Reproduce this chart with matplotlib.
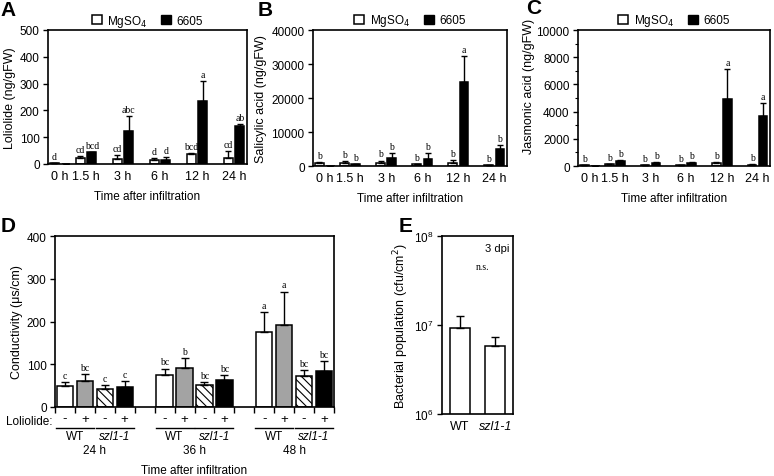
import numpy as np
import matplotlib
matplotlib.use("Agg")
import matplotlib.pyplot as plt
from matplotlib.patches import Patch
from matplotlib.ticker import MultipleLocator, LogLocator, NullLocator

plt.rcParams['font.family'] = ['Liberation Sans', 'DejaVu Sans']
plt.rcParams['hatch.linewidth'] = 0.8

# panels A-C: hormone levels after infiltration
times = ["0 h", "1.5 h", "3 h", "6 h", "12 h", "24 h"]

lol_mg = [3, 22, 20, 15, 37, 22]
lol_mg_err = [1, 6, 14, 8, 3, 25]
lol_bk = [0, 43, 125, 15, 235, 142]
lol_bk_err = [0, 2, 55, 10, 75, 6]
lol_mg_lab = ["d", "cd", "cd", "d", "bcd", "cd"]
lol_bk_lab = ["", "bcd", "abc", "d", "a", "ab"]

sa_mg = [900, 1000, 1000, 600, 1000, 300]
sa_mg_err = [300, 500, 600, 100, 800, 0]
sa_bk = [0, 600, 2500, 2200, 24800, 5000]
sa_bk_err = [0, 0, 1400, 1700, 7500, 1200]
sa_mg_lab = ["b", "b", "b", "b", "b", "b"]
sa_bk_lab = ["", "b", "b", "b", "a", "b"]

ja_mg = [50, 120, 80, 70, 200, 100]
ja_mg_err = [20, 30, 20, 20, 120, 30]
ja_bk = [0, 380, 250, 250, 4950, 3700]
ja_bk_err = [0, 30, 30, 30, 2200, 900]
ja_mg_lab = ["b", "b", "b", "b", "b", "b"]
ja_bk_lab = ["", "b", "b", "b", "a", "a"]

# panel D: conductivity
d_groups = ["24 h", "36 h", "48 h"]
wt_minus = [49, 75, 175]
wt_minus_err = [9, 15, 47]
wt_plus = [61, 92, 191]
wt_plus_err = [17, 23, 79]
szl_minus = [43, 51, 72]
szl_minus_err = [9, 8, 14]
szl_plus = [46, 62, 85]
szl_plus_err = [15, 12, 22]
d_labels = [["c", "bc", "c", "c"], ["bc", "b", "bc", "bc"], ["a", "a", "bc", "bc"]]

# panel E: bacterial population
e_names = ["WT", "szl1-1"]
e_vals = [9.3e6, 5.8e6]
e_err = [3.2e6, 1.6e6]

W, H = 774, 477
fig = plt.figure(figsize=(W / 100, H / 100), dpi=100)


def px_axes(l, r, t, b):
    return fig.add_axes([l / W, 1 - b / H, (r - l) / W, (b - t) / H])


def style(ax):
    for s in ax.spines.values():
        s.set_linewidth(1.2)
    ax.tick_params(axis='y', direction='out', length=3.5, width=1, labelsize=8.5, pad=2.5)
    ax.tick_params(axis='x', length=0, labelsize=9, pad=4)


def letters(ax, xs, ys, errs, labs):
    for x, y, e, t in zip(xs, ys, errs, labs):
        if t:
            ax.annotate(t, (x, y + e), xytext=(0, 1.5), textcoords='offset points',
                        ha='center', va='bottom', fontsize=7, family='Liberation Serif')


def hormone_panel(ax, mg, mg_err, bk, bk_err, mg_lab, bk_lab, ymax, step, ylabel, minor=None):
    pos = np.array([0.3, 1, 2, 3, 4, 5])
    w = 0.24
    xm = pos - 0.155
    xb = pos + 0.155
    ax.bar(xm, mg, w, color='white', edgecolor='black', linewidth=1.1, zorder=2)
    ax.bar(xb, bk, w, color='black', edgecolor='black', linewidth=1.1, zorder=2)
    ax.errorbar(xm, mg, yerr=[np.zeros(6), mg_err], fmt='none', ecolor='black',
                elinewidth=1, capsize=2.5, capthick=1, zorder=3)
    ax.errorbar(xb, bk, yerr=[np.zeros(6), bk_err], fmt='none', ecolor='black',
                elinewidth=1, capsize=2.5, capthick=1, zorder=3)
    letters(ax, xm, mg, mg_err, mg_lab)
    letters(ax, xb, bk, bk_err, bk_lab)
    ax.set_xlim(-0.03, 5.35)
    ax.set_ylim(0, ymax)
    ax.set_xticks(pos)
    ax.set_xticklabels(times)
    ax.yaxis.set_major_locator(MultipleLocator(step))
    if minor:
        ax.yaxis.set_minor_locator(MultipleLocator(minor))
        ax.tick_params(axis='y', which='minor', length=2, width=0.8)
    style(ax)
    ax.set_ylabel(ylabel, fontsize=9, labelpad=3)
    ax.set_xlabel("Time after infiltration", fontsize=8.5, labelpad=6)
    handles = [Patch(facecolor='white', edgecolor='black', linewidth=1.1),
               Patch(facecolor='black', edgecolor='black')]
    ax.legend(handles, ["MgSO$_4$", "6605"], loc='center', bbox_to_anchor=(0.5, 1.07),
              ncol=2, frameon=False, fontsize=8.5, handlelength=0.85, handleheight=0.85,
              handletextpad=0.45, columnspacing=1.2, borderaxespad=0, borderpad=0)


def panel_letter(x, y, s):
    fig.text(x / W, 1 - y / H, s, fontsize=15, fontweight='bold', ha='left', va='center')


axA = px_axes(48, 247, 31, 165)
hormone_panel(axA, lol_mg, lol_mg_err, lol_bk, lol_bk_err, lol_mg_lab, lol_bk_lab,
              500, 100, "Loliolide (ng/gFW)")
panel_letter(0, 11, "A")

axB = px_axes(313, 507, 31, 167)
hormone_panel(axB, sa_mg, sa_mg_err, sa_bk, sa_bk_err, sa_mg_lab, sa_bk_lab,
              40000, 10000, "Salicylic acid (ng/gFW)")
panel_letter(258, 11, "B")

axC = px_axes(578, 770, 31, 167)
hormone_panel(axC, ja_mg, ja_mg_err, ja_bk, ja_bk_err, ja_mg_lab, ja_bk_lab,
              10000, 2000, "Jasmonic acid (ng/gFW)", minor=1000)
panel_letter(526, 9, "C")
axC.yaxis.set_label_coords(-0.225, 0.59)

# panel D
axD = px_axes(55, 334, 237, 408)
series = [(wt_minus, wt_minus_err, dict(color='white', edgecolor='black')),
          (wt_plus, wt_plus_err, dict(color='#a3a3a3', edgecolor='black')),
          (szl_minus, szl_minus_err, dict(color='white', edgecolor='black', hatch='\\\\\\\\')),
          (szl_plus, szl_plus_err, dict(color='black', edgecolor='black'))]
for k, (vals, errs, kw) in enumerate(series):
    xs = np.arange(3) * 5 + k
    axD.bar(xs, vals, 0.82, linewidth=1.1, zorder=2, **kw)
    axD.errorbar(xs, vals, yerr=[np.zeros(3), errs], fmt='none', ecolor='black',
                 elinewidth=1, capsize=3, capthick=1, zorder=3)
    letters(axD, xs, vals, errs, [g[k] for g in d_labels])
axD.set_xlim(-0.5, 13.5)
axD.set_ylim(0, 400)
axD.yaxis.set_major_locator(MultipleLocator(100))
all_x = [g * 5 + k for g in range(3) for k in range(4)]
axD.set_xticks(all_x)
axD.set_xticklabels(["-", "+"] * 6)
axD.set_xticks(np.arange(-0.5, 14, 1), minor=True)
style(axD)
axD.tick_params(axis='x', which='major', length=0, labelsize=9.5, pad=4)
axD.tick_params(axis='x', which='minor', direction='out', length=4, width=1)
axD.set_ylabel("Conductivity (\u03bcs/cm)", fontsize=9, labelpad=3)

trD = axD.get_xaxis_transform()
for g, name in enumerate(d_groups):
    for p, gname in enumerate(["WT", "szl1-1"]):
        x0 = g * 5 + 2 * p
        axD.plot([x0 - 0.45, x0 + 1.45], [-21 / 171, -21 / 171], color='black', lw=1,
                 transform=trD, clip_on=False)
        axD.text(x0 + 0.5, -29 / 171, gname, transform=trD, ha='center', va='center',
                 fontsize=8.5, style='italic' if p else 'normal')
    axD.text(g * 5 + 1.5, -43 / 171, name, transform=trD, ha='center', va='center', fontsize=8.5)
axD.text(-0.65, -14 / 171, "Loliolide:", transform=trD, ha='right', va='center', fontsize=8.5)
axD.text(0.5, -63 / 171, "Time after infiltration", transform=axD.transAxes,
         ha='center', va='center', fontsize=8.5)
panel_letter(1, 226, "D")

# panel E
axE = px_axes(442, 513, 237, 415)
ex = np.arange(2)
axE.bar(ex, e_vals, 0.55, bottom=0, color='white', edgecolor='black', linewidth=1.1, zorder=2)
axE.errorbar(ex, e_vals, yerr=[np.zeros(2), e_err], fmt='none', ecolor='black',
             elinewidth=1, capsize=3, capthick=1, zorder=3)
axE.set_yscale('log')
axE.set_ylim(1e6, 1e8)
axE.set_xlim(-0.5, 1.5)
axE.yaxis.set_major_locator(LogLocator(base=10, numticks=5))
axE.yaxis.set_minor_locator(NullLocator())
axE.set_xticks(ex)
axE.set_xticklabels(e_names)
axE.get_xticklabels()[1].set_style('italic')
style(axE)
axE.set_ylabel("Bacterial population (cfu/cm$^2$)", fontsize=9, labelpad=2)
axE.text(0.95, 0.96, "3 dpi", transform=axE.transAxes, ha='right', va='top', fontsize=8)
axE.text(0.57, 0.83, "n.s.", transform=axE.transAxes, ha='center', va='center', fontsize=7,
         family='Liberation Serif')
panel_letter(399, 226, "E")

fig.savefig("out.png", dpi=100)
